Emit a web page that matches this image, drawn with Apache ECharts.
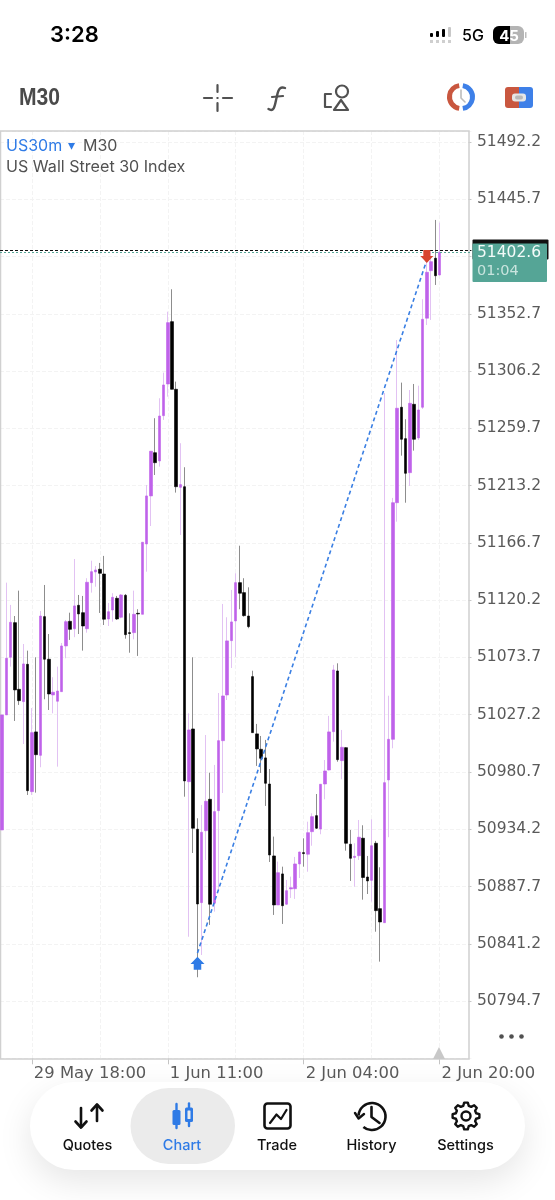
<!DOCTYPE html>
<html>
<head>
<meta charset="utf-8">
<style>html,body{margin:0;padding:0;background:#fff}#chart{width:555px;height:1200px}</style>
<script src="https://cdn.jsdelivr.net/npm/echarts@6/dist/echarts.min.js"></script>
</head>
<body>
<div id="chart"></div>
<script>
// US30m M30 candles
const opens = [50933.6,51027.0,51073.8,51101.9,51047.8,51037.8,51068.1,50964.7,51013.2,50994.2,51106.8,51072.2,51043.2,51038.1,51045.9,51083.0,51103.0,51097.0,51116.0,51110.0,51097.0,51134.4,51143.1,51145.3,51141.4,51104.9,51112.2,51121.7,51106.3,51124.1,51093.8,51093.8,51109.5,51108.7,51165.8,51204.8,51239.9,51233.2,51270.0,51295.7,51346.3,51291.4,51211.8,51212.3,50972.8,51015.6,50934.2,50874.6,50933.0,50958.5,50874.1,50949.3,51006.1,51043.2,51087.3,51103.3,51134.4,51126.3,51107.3,51058.1,51011.6,50999.1,50992.1,50970.9,50912.5,50872.7,50897.9,50873.3,50885.7,50885.9,50906.0,50915.2,50913.9,50932.2,50945.2,50934.4,50970.9,50982.3,51013.4,51062.7,50989.9,51000.4,50922.0,50911.3,50912.7,50926.9,50895.4,50892.7,50922.8,50869.7,50858.3,50974.2,51007.2,51199.3,51276.8,51251.3,51223.7,51279.2,51251.9,51276.8,51349.1,51387.7,51397.8,51384.2];
const closes = [51027.0,51073.0,51102.2,51047.3,51038.6,51068.4,50965.5,51012.6,50994.7,51107.3,51072.2,51044.0,51045.4,51046.4,51083.0,51102.7,51096.5,51115.5,51109.0,51099.2,51134.7,51143.3,51144.7,51142.0,51104.7,51110.8,51122.5,51104.9,51124.4,51092.2,51093.1,51108.7,51109.0,51167.2,51204.8,51241.1,51231.8,51269.7,51294.9,51345.5,51291.4,51212.3,51214.0,50973.4,51014.8,50935.0,50873.5,50931.7,50956.9,50873.3,50948.5,51006.1,51042.4,51087.1,51102.5,51134.4,51125.8,51107.6,51098.7,51012.6,50999.4,50991.8,50971.5,50913.3,50872.7,50898.9,50872.1,50884.3,50886.7,50906.0,50915.7,50914.4,50931.4,50944.4,50935.0,50970.7,50981.5,51013.2,51063.5,50990.7,51000.7,50922.8,50910.6,50912.2,50927.7,50895.0,50892.2,50920.8,50868.1,50858.9,50972.0,51007.2,51199.3,51276.0,51250.8,51223.2,51280.0,51250.8,51274.6,51348.2,51386.4,51395.0,51383.6,51402.6];
const lows = [50933.6,51027.0,51066.2,51022.1,51035.1,51003.4,50962.0,50962.0,50963.9,50984.5,51039.7,51031.0,51028.3,50985.0,51045.9,51073.0,51087.9,51090.1,51092.7,51079.2,51093.8,51126.3,51131.1,51109.8,51100.0,51099.2,51102.7,51104.1,51105.5,51088.9,51077.5,51088.4,51074.9,51108.7,51143.3,51180.4,51221.8,51228.6,51266.5,51285.4,51291.4,51207.5,51173.1,50960.6,50846.9,50914.9,50814.0,50832.1,50909.2,50856.5,50867.3,50884.9,50963.6,51039.1,51065.1,51074.1,51112.8,51106.8,51097.4,51012.6,50985.6,50979.9,50953.1,50907.6,50864.6,50872.7,50857.3,50872.7,50878.4,50877.6,50894.6,50903.8,50899.7,50920.8,50934.4,50930.1,50958.5,50981.9,51005.3,50989.0,50974.8,50916.8,50892.2,50887.5,50909.2,50877.0,50881.6,50875.4,50851.0,50826.7,50858.1,50927.7,50999.9,51183.9,51237.5,51199.3,51212.9,51241.6,51250.2,51275.4,51343.6,51347.7,51376.1,51383.8];
const highs = [51027.0,51134.4,51116.3,51107.3,51127.9,51084.6,51079.2,51032.6,51073.8,51111.4,51132.5,51092.7,51057.6,51066.2,51085.4,51104.1,51110.0,51153.6,51124.4,51123.6,51138.0,51152.2,51147.9,51150.4,51156.1,51117.9,51125.8,51123.6,51125.2,51125.2,51109.5,51127.9,51112.8,51167.2,51213.7,51241.1,51267.9,51284.1,51304.9,51354.4,51372.6,51297.6,51247.6,51228.1,51028.3,51073.8,50943.1,50953.9,51010.7,50980.1,50986.4,51044.8,51117.1,51106.3,51128.5,51142.0,51164.4,51138.0,51130.6,51062.9,51019.7,51009.9,51006.7,50983.1,50928.2,50907.9,50903.8,50893.0,50895.7,50911.7,50916.0,50926.8,50940.3,50947.1,50962.8,50970.9,50990.4,51026.2,51067.6,51068.9,51014.8,51000.7,50933.6,50922.8,50941.7,50937.4,50912.5,50942.3,50924.7,50903.3,51288.4,51042.6,51203.2,51331.4,51296.8,51267.1,51290.8,51295.7,51294.3,51364.5,51396.4,51403.1,51428.9,51426.7];

// Date labels along the time axis, and the bars they sit under
const dateLabels = ['29 May 18:00', '1 Jun 11:00', '2 Jun 04:00', '2 Jun 20:00'];
const dateBars = [7, 39, 71, 103];
const gridStep = 16;
const futureBars = 7;

// Price scale
const priceMin = 50748.2;
const priceMax = 51501.1;
const priceStep = 46.5;

// Last prices and the closed trade's entry and exit
const bidPrice = 51402.6;
const askPrice = 51404.5;
const countdown = '01:04';
const tradeBars = [46, 100];
const tradePrices = [50833.7, 51396.4];
const buyArrow = [46, 50825.3];
const sellArrow = [100, 51399.2];

const categories = [];
for (let i = 0; i < opens.length + futureBars; i++) {
  const at = dateBars.indexOf(i);
  categories.push(at >= 0 ? dateLabels[at] : '');
}

const wickData = opens.map((o, i) => [o, closes[i], lows[i], highs[i]]);
const bodyData = opens.map((o, i) => [o, closes[i], Math.min(o, closes[i]), Math.max(o, closes[i])]);

const PURPLE = '#bf62ea', PALE = '#e2c2f3', BLACK = '#000000', GREY = '#8d8d8d', BLUE = '#2f7be6', RED = '#d8452f', TEAL = '#55a596';
const UI = 'Inter, Roboto, sans-serif';
const AXIS_FONT = '"DejaVu Sans", sans-serif';
const INK = '#515151';

const arrowUp = 'path://M6.5 0L13 6.5H10V12H3V6.5H0Z';
const arrowDown = 'path://M3 0H10V5.5H13L6.5 12L0 5.5H3Z';

function stroke(points, color, width, cap) {
  return { type: 'polyline', shape: { points }, style: { stroke: color, lineWidth: width, fill: null, lineCap: cap || 'round', lineJoin: 'round' }, silent: true, z: 20 };
}
function curve(x1, y1, cpx1, cpy1, cpx2, cpy2, x2, y2, color, width) {
  return { type: 'bezierCurve', shape: { x1, y1, cpx1, cpy1, cpx2, cpy2, x2, y2 }, style: { stroke: color, lineWidth: width, fill: null, lineCap: 'round' }, silent: true, z: 20 };
}
function label(text, x, y, font, color, align) {
  return { type: 'text', x, y, style: { text, font, fill: color, align: align || 'left', verticalAlign: 'middle' }, silent: true, z: 22 };
}
function box(x, y, width, height, r, fill, extra) {
  return { type: 'rect', shape: { x, y, width, height, r }, style: Object.assign({ fill }, extra || {}), silent: true, z: 20 };
}
function ring(cx, cy, r, color, width, start, end) {
  const shape = { cx, cy, r, startAngle: start, endAngle: end, clockwise: true };
  return { type: 'arc', shape, style: { stroke: color, lineWidth: width, fill: null }, silent: true, z: 20 };
}
function gearPath(cx, cy, outer, inner, teeth) {
  const pts = [];
  const s = Math.PI * 2 / teeth;
  for (let t = 0; t < teeth; t++) {
    const a = t * s - Math.PI / 2;
    pts.push([cx + inner * Math.cos(a - s * 0.34), cy + inner * Math.sin(a - s * 0.34)]);
    pts.push([cx + outer * Math.cos(a - s * 0.17), cy + outer * Math.sin(a - s * 0.17)]);
    pts.push([cx + outer * Math.cos(a + s * 0.17), cy + outer * Math.sin(a + s * 0.17)]);
    pts.push([cx + inner * Math.cos(a + s * 0.34), cy + inner * Math.sin(a + s * 0.34)]);
  }
  return { type: 'polygon', shape: { points: pts }, style: { stroke: '#111', lineWidth: 2.4, fill: '#fff', lineJoin: 'round' }, silent: true, z: 20 };
}

const graphics = [
  // plot frame
  { type: 'rect', shape: { x: 0.5, y: 131, width: 468.5, height: 928 }, style: { fill: null, stroke: '#d0d0d0', lineWidth: 1.5 }, silent: true, z: 1 },
  // status bar
  label('3:28', 50, 35.5, '600 22px ' + UI, '#000'),
  box(430, 33, 3, 4, 1, '#000'), box(436, 31, 3, 6, 1, '#000'), box(442, 29, 3, 8, 1, '#000'), box(448, 27, 3, 10, 1, '#c8c8c8'),
  box(430, 40, 3, 3, 0, '#cfcfcf'), box(436, 40, 3, 3, 0, '#cfcfcf'), box(442, 40, 3, 3, 0, '#cfcfcf'), box(448, 40, 3, 3, 0, '#cfcfcf'),
  label('5G', 462, 36, '500 16px ' + UI, '#000'),
  box(493, 26, 31, 18, 6, '#b4b4b4'),
  box(493, 26, 17, 18, [6, 0, 0, 6], '#000'),
  box(525, 32, 1.5, 6, 0.5, '#bbb'),
  label('45', 509, 36, '700 15px ' + UI, '#fff', 'center'),
  // toolbar
  Object.assign(label('M30', 19, 98, 'bold 24px "Liberation Sans", sans-serif', '#4a4a4a'), { scaleX: 0.88 }),
  stroke([[204, 98], [212, 98]], INK, 2.2), stroke([[223, 98], [232, 98]], INK, 2.2),
  stroke([[217.5, 85], [217.5, 92]], INK, 2.2), stroke([[217.5, 103], [217.5, 111]], INK, 2.2),
  box(216.5, 97, 2, 2, 0, INK),
  curve(268.5, 109, 275, 113, 275, 103, 277, 96, INK, 2.4),
  curve(277, 96, 278.5, 88, 281, 86.5, 285, 88, INK, 2.4),
  stroke([[272, 97], [283, 96]], INK, 2.2),
  stroke([[331, 94], [325, 94], [325, 107], [331, 107]], INK, 2.2),
  ring(342, 91.5, 6, INK, 2.2, 0, Math.PI * 2),
  stroke([[341, 100], [348, 110], [334, 110], [341, 100]], INK, 2.2),
  ring(461, 97, 11.5, '#c9573f', 5, Math.PI * 0.55, Math.PI * 1.45),
  ring(461, 97, 11.5, '#3e80e8', 5, -Math.PI * 0.45, Math.PI * 0.45),
  stroke([[461, 90], [461, 98], [465, 102]], '#bcbcbc', 1.6),
  box(505, 87, 14, 21, [3, 0, 0, 3], '#c9573f'),
  box(519, 87, 14, 21, [0, 3, 3, 0], '#3e80e8'),
  box(512, 93.5, 14, 8, 3, '#e6e6e6'), box(515, 95.5, 8, 4, 2, '#b9b9b9'),
  // symbol heading
  label('US30m', 6, 146, '16px ' + UI, BLUE),
  label('\u25BE', 68, 146, '14px "DejaVu Sans", sans-serif', BLUE),
  label('M30', 83, 146, '16px ' + UI, INK),
  label('US Wall Street 30 Index', 6, 167, '16.1px ' + UI, INK),
  // price badge
  box(472.5, 239.5, 76, 20, 1, '#111'),
  box(472.5, 243.5, 74.5, 38.5, 1, TEAL),
  label(String(bidPrice), 477, 253, '15.5px ' + AXIS_FONT, '#f4fbf9'),
  label(countdown, 477, 271, '14.5px ' + AXIS_FONT, '#c9e4de'),
  // more menu and current-bar marker
  { type: 'circle', shape: { cx: 501.5, cy: 1036.5, r: 2.3 }, style: { fill: INK }, silent: true, z: 20 },
  { type: 'circle', shape: { cx: 511.5, cy: 1036.5, r: 2.3 }, style: { fill: INK }, silent: true, z: 20 },
  { type: 'circle', shape: { cx: 521.5, cy: 1036.5, r: 2.3 }, style: { fill: INK }, silent: true, z: 20 },
  { type: 'polygon', shape: { points: [[439, 1047], [445, 1059], [433, 1059]] }, style: { fill: '#c8c8c8' }, silent: true, z: 5 },
  // tab bar
  box(30, 1082, 495, 88, 44, '#fff', { shadowBlur: 34, shadowColor: 'rgba(0,0,0,0.10)', shadowOffsetY: 12 }),
  box(130.5, 1088, 104.5, 76, 38, '#ebebeb'),
  stroke([[81, 1108], [81, 1127]], '#111', 2.6), stroke([[75.5, 1121.5], [81, 1127.5], [86.5, 1121.5]], '#111', 2.6),
  stroke([[97, 1105], [97, 1121]], '#111', 2.6), stroke([[91.5, 1110.5], [97, 1104.5], [102.5, 1110.5]], '#111', 2.6),
  stroke([[176.5, 1104], [176.5, 1128]], BLUE, 2.4), box(172.5, 1110, 8, 15, 1.5, BLUE),
  stroke([[189, 1103.5], [189, 1126]], BLUE, 2.4), box(185, 1107.5, 8, 14.5, 1.5, BLUE), box(187.5, 1110.5, 3, 8.5, 0.5, '#ebebeb'),
  box(264.5, 1103.5, 26, 25, 3, '#fff', { stroke: '#111', lineWidth: 2.6 }),
  stroke([[270, 1123], [276.5, 1114.5], [281, 1119], [286.5, 1110]], '#111', 2.2),
  ring(372, 1116.5, 13.5, '#111', 2.6, -Math.PI * 0.98, Math.PI * 0.72),
  stroke([[355, 1113], [358.6, 1118.5], [364, 1114]], '#111', 2.4),
  stroke([[371.5, 1107], [371.5, 1117], [379.5, 1123]], '#111', 2.6),
  gearPath(466, 1116, 13.5, 10.5, 8),
  ring(466, 1116, 4.5, '#111', 2.4, 0, Math.PI * 2),
  label('Quotes', 87.5, 1146, '500 14.5px ' + UI, '#111', 'center'),
  label('Chart', 182, 1146, '500 14.5px ' + UI, BLUE, 'center'),
  label('Trade', 277, 1146, '500 14.5px ' + UI, '#111', 'center'),
  label('History', 371.5, 1146, '500 14.5px ' + UI, '#111', 'center'),
  label('Settings', 465.5, 1146, '500 14.5px ' + UI, '#111', 'center')
];

const onDateBar = (i) => dateBars.indexOf(i) >= 0;
const onGridBar = (i) => (i - dateBars[0]) % gridStep === 0;

const option = {
  animation: false,
  backgroundColor: '#fff',
  grid: { left: -2.09, top: 131, width: 473.5, height: 927.3, containLabel: false, show: false },
  xAxis: {
    type: 'category',
    data: categories,
    boundaryGap: true,
    axisLine: { show: false },
    axisTick: { show: true, alignWithLabel: true, interval: onDateBar, length: 6, lineStyle: { color: '#c4c4c4', width: 1 } },
    axisLabel: {
      show: true, interval: onDateBar, align: 'left', margin: 7, padding: [0, 0, 0, 2], hideOverlap: false,
      color: '#5a5a5a', fontFamily: AXIS_FONT, fontSize: 16.4
    },
    splitLine: { show: true, alignWithLabel: true, interval: onGridBar, lineStyle: { color: '#f3f3f3', type: 'dashed', width: 1 } }
  },
  yAxis: {
    type: 'value',
    position: 'right',
    scale: true,
    min: priceMin,
    max: priceMax,
    interval: priceStep,
    axisLine: { show: false },
    axisTick: { show: true, inside: true, length: 3, lineStyle: { color: '#c8c8c8' } },
    axisLabel: {
      show: true, showMinLabel: false, showMaxLabel: false, margin: 5.5, padding: [2, 0, 0, 0], color: '#5a5a5a', fontFamily: AXIS_FONT, fontSize: 15.5,
      formatter: (v) => v.toFixed(1)
    },
    splitLine: { show: true, lineStyle: { color: '#f3f3f3', type: 'dashed', width: 1 } }
  },
  graphic: { elements: graphics },
  series: [
    {
      type: 'candlestick',
      name: 'wicks',
      data: wickData,
      barWidth: 1,
      clip: true,
      z: 2,
      itemStyle: { color: PALE, color0: GREY, borderColor: PALE, borderColor0: GREY, borderWidth: 1 }
    },
    {
      type: 'candlestick',
      name: 'bodies',
      data: bodyData,
      barWidth: 3,
      clip: true,
      z: 3,
      itemStyle: { color: PURPLE, color0: BLACK, borderColor: PURPLE, borderColor0: BLACK, borderWidth: 0.6 }
    },
    {
      type: 'line',
      name: 'trade',
      data: tradeBars.map((b, i) => [b, tradePrices[i]]),
      showSymbol: false,
      z: 4,
      lineStyle: { color: '#3a7fe3', width: 1.6, type: [4, 3] },
      markLine: {
        silent: true,
        symbol: ['none', 'none'],
        label: { show: false },
        animation: false,
        data: [
          { yAxis: askPrice, lineStyle: { color: '#111', type: [3, 2], width: 1.2 } },
          { yAxis: bidPrice, lineStyle: { color: TEAL, type: [2, 2], width: 1.2 } }
        ]
      }
    },
    {
      type: 'scatter',
      name: 'deals',
      z: 5,
      data: [
        { value: buyArrow, symbol: arrowUp, symbolSize: [14, 13], itemStyle: { color: BLUE, opacity: 1 } },
        { value: sellArrow, symbol: arrowDown, symbolSize: [13, 13], itemStyle: { color: RED, opacity: 1 } }
      ]
    }
  ]
};

echarts.init(document.getElementById('chart'), null, { renderer: 'canvas' }).setOption(option);
</script>
</body>
</html>
